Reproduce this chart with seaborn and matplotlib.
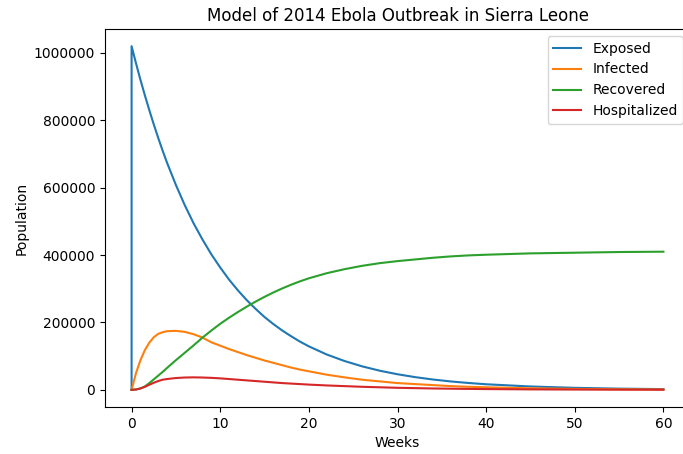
import matplotlib
matplotlib.use("Agg")
import matplotlib.pyplot as plt
import seaborn as sns
import pandas as pd

# Simulated compartment sizes for the Sierra Leone outbreak model (weekly output)
weeks = [0, 0.5, 1, 1.5, 2, 2.5, 3, 3.5, 4, 5, 6, 7, 8, 9, 10, 11, 12, 13, 14,
         15, 16, 17, 18, 19, 20, 22, 24, 26, 28, 30, 32, 34, 36, 38, 40, 45,
         50, 55, 60]

exposed = [1020000, 969000, 920000, 874000, 830000, 788000, 748000, 710000,
           674000, 608000, 548000, 494000, 446000, 402000, 363000, 327000,
           295000, 266000, 240000, 216000, 195000, 176000, 159000, 143000,
           129000, 105000, 85700, 69700, 56700, 46200, 37600, 30600, 24900,
           20300, 16500, 9900, 5900, 3500, 2100]

infected = [0, 50000, 88000, 118000, 140000, 156000, 166000, 171000, 174000,
            175000, 172000, 165000, 155000, 141000, 131000, 121000, 112000,
            103000, 95000, 87000, 80000, 73000, 66000, 60000, 55000, 45000,
            37000, 30000, 25000, 20000, 17000, 14000, 11000, 9000, 7500, 4500,
            2700, 1600, 1000]

recovered = [0, 1000, 4000, 10000, 20000, 31000, 42000, 53000, 65000, 88000,
             110000, 132000, 155000, 176000, 196000, 214000, 231000, 247000,
             262000, 276000, 289000, 301000, 312000, 322000, 331000, 346000,
             358000, 368000, 376000, 382000, 387000, 392000, 396000, 399000,
             401000, 405000, 407000, 409000, 410000]

hospitalized = [0, 1000, 4000, 9000, 15000, 21000, 26000, 30000, 32000, 35000,
                36500, 37000, 36500, 35500, 34000, 32000, 30000, 28000, 26000,
                24000, 22000, 20000, 18500, 17000, 15500, 13000, 11000, 9000,
                7500, 6000, 5000, 4000, 3300, 2700, 2200, 1300, 800, 500, 300]

# The exposed compartment is seeded at week 0, so its trace starts from zero
exposed_weeks = [0] + weeks
exposed_vals = [0] + exposed

fig = plt.figure(figsize=(6.83, 4.54), dpi=100)
ax = fig.add_axes([105 / 683, 47 / 454, 585 / 683, 378 / 454])

series = [
    ("Exposed", exposed_weeks, exposed_vals, "C0"),
    ("Infected", weeks, infected, "C1"),
    ("Recovered", weeks, recovered, "C2"),
    ("Hospitalized", weeks, hospitalized, "C3"),
]
for name, xs, ys, color in series:
    df = pd.DataFrame({"Weeks": xs, "Population": ys})
    sns.lineplot(data=df, x="Weeks", y="Population", ax=ax, color=color,
                 label=name, estimator=None, sort=False, linewidth=1.5)

ax.ticklabel_format(style="plain", axis="y")
ax.set_title("Model of 2014 Ebola Outbreak in Sierra Leone")
ax.set_xlabel("Weeks")
ax.set_ylabel("Population")
ax.legend(loc="upper right")

fig.savefig("out.png", dpi=100)
